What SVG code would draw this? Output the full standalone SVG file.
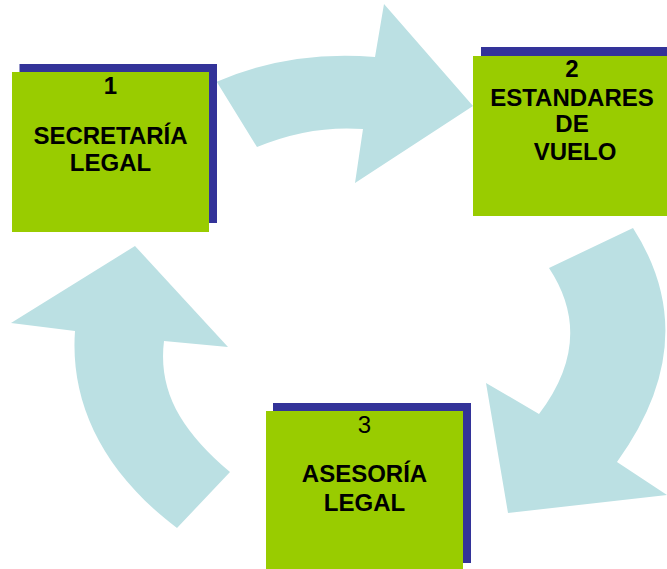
<svg xmlns="http://www.w3.org/2000/svg" width="667" height="569" viewBox="0 0 667 569">
<style>
.arrow{fill:#BBE0E3}
.shadow{fill:#333399}
.box{fill:#99CC00}
.t{font-family:"Liberation Sans",Arial,sans-serif;font-size:24px;font-weight:bold;fill:#000;text-anchor:middle}
.n{font-weight:normal}
</style>
<rect width="667" height="569" fill="#fff"/>
<g id="connectors">
<path class="arrow" d="M216.7 81.7 Q290 50 375 57 L384 4 L473 106 L355 183 L363 129 Q310 125 257 147 Z"/>
<path class="arrow" d="M633 228 Q705 340 617 462 L667 495 L508 513 L486 383 L539 414 Q596 339 549 268 Z"/>
<path class="arrow" d="M135 246 L11 323 L75 331 C70 400 100 470 177 528 L230 472 C180 430 158 390 164 341 L228 347 Z"/>
</g>
<g id="node1">
<rect class="shadow" x="19.5" y="64" width="197.5" height="159"/>
<rect class="box" x="12" y="72" width="197" height="160"/>
<text class="t" x="110.5" y="94">1</text>
<text class="t" x="110.5" y="144">SECRETARÍA</text>
<text class="t" x="110.5" y="171">LEGAL</text>
</g>
<g id="node2">
<rect class="shadow" x="481" y="47" width="197" height="160"/>
<rect class="box" x="473" y="56" width="197" height="160"/>
<text class="t" x="572" y="77">2</text>
<text class="t" x="572" y="106">ESTANDARES</text>
<text class="t" x="572" y="132">DE</text>
<text class="t" x="575" y="160">VUELO</text>
</g>
<g id="node3">
<rect class="shadow" x="273" y="403" width="198" height="160"/>
<rect class="box" x="266" y="411" width="197" height="160"/>
<text class="t n" x="364.5" y="433">3</text>
<text class="t" x="364.5" y="482">ASESORÍA</text>
<text class="t" x="364.5" y="511">LEGAL</text>
</g>
</svg>
